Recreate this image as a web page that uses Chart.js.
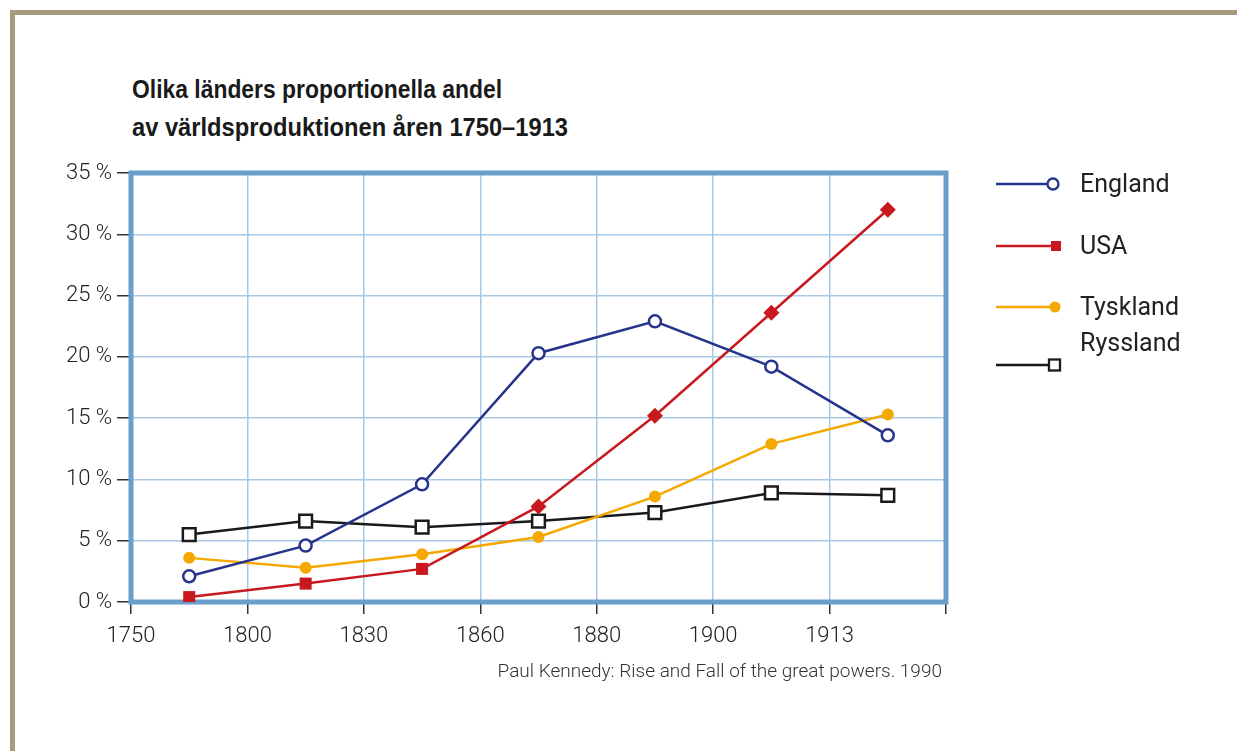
<!DOCTYPE html>
<html>
<head>
<meta charset="utf-8">
<script src="https://cdn.jsdelivr.net/npm/chart.js@4"></script>
<style>
  body { margin: 0; width: 1237px; height: 751px; overflow: hidden; position: relative; background: #fff; font-family: Roboto, sans-serif; }
  #border { position: absolute; left: 10px; top: 10px; width: 1300px; height: 800px; border-top: 5px solid #a69a80; border-left: 5px solid #a69a80; }
  #title { position: absolute; left: 132px; top: 70px; font-family: "Liberation Sans", sans-serif; font-weight: bold; font-size: 25px; line-height: 38px; color: #1a1a1a; }
  #title div { transform-origin: 0 50%; white-space: nowrap; width: max-content; }
  canvas { position: absolute; left: 0; top: 0; }
  #legend { position: absolute; left: 0; top: 0; }
  .item { position: absolute; left: 994px; }
  .item span { position: absolute; left: 86px; font-weight: 400; font-size: 25px; color: #222; white-space: nowrap; line-height: 28px; }
  #source { position: absolute; right: 295px; top: 659px; font-weight: 300; font-size: 19px; color: #333; white-space: nowrap; }
</style>
</head>
<body>
<div id="border"></div>
<div id="title"><div id="t1">Olika länders proportionella andel</div><div id="t2">av världsproduktionen åren 1750–1913</div></div>
<canvas id="chart" width="1237" height="751"></canvas>
<div id="legend"></div>
<div id="source">Paul Kennedy: Rise and Fall of the great powers. 1990</div>
<script>
// år (etiketter vid stödlinjerna, punkterna ligger mellan dem)
const xLabels = ['1750', '1800', '1830', '1860', '1880', '1900', '1913'];
const countries = ['England', 'USA', 'Tyskland', 'Ryssland'];

// andel av världsproduktionen, procent
const england  = [2.1, 4.6, 9.6, 20.3, 22.9, 19.2, 13.6];
const usa      = [0.4, 1.5, 2.7, 7.8, 15.2, 23.6, 32.0];
const tyskland = [3.6, 2.8, 3.9, 5.3, 8.6, 12.9, 15.3];
const ryssland = [5.5, 6.6, 6.1, 6.6, 7.3, 8.9, 8.7];

const yMax = 35;
const yStep = 5;

const navy = '#27348b';
const red = '#c8191e';
const orange = '#f5a800';
const black = '#1a1a1a';
const gridBlue = '#a9c8e6';
const frameBlue = '#6a9fcc';

const toPoints = arr => arr.map((v, i) => ({ x: i + 0.5, y: v }));

// condensed look for the title: squeeze each line to the reference width
const titleWidths = { t1: 370, t2: 436 };
Object.keys(titleWidths).forEach(id => {
  const el = document.getElementById(id);
  el.style.transform = `scaleX(${titleWidths[id] / el.getBoundingClientRect().width})`;
});

const framePlugin = {
  id: 'frame',
  beforeDatasetsDraw(chart) {
    const { ctx, chartArea: a } = chart;
    ctx.save();
    ctx.strokeStyle = frameBlue;
    ctx.lineWidth = 5;
    ctx.strokeRect(a.left, a.top, a.right - a.left, a.bottom - a.top);
    ctx.restore();
  }
};

const tickFont = { family: 'Roboto', size: 22, weight: '300' };

function makeChart() {
  const datasets = [
    {
      label: countries[0], data: toPoints(england),
      borderColor: navy, borderWidth: 2.5,
      pointStyle: 'circle', pointRadius: 6, pointBorderWidth: 2.5,
      pointBackgroundColor: '#fff', pointBorderColor: navy
    },
    {
      label: countries[1], data: toPoints(usa),
      borderColor: red, borderWidth: 2.5,
      pointStyle: c => c.dataIndex < 3 ? 'rect' : 'rectRot',
      pointRadius: c => c.dataIndex < 3 ? 8.5 : 8,
      pointBorderWidth: 0,
      pointBackgroundColor: red, pointBorderColor: red
    },
    {
      label: countries[2], data: toPoints(tyskland),
      borderColor: orange, borderWidth: 2.5,
      pointStyle: 'circle', pointRadius: 6, pointBorderWidth: 0,
      pointBackgroundColor: orange, pointBorderColor: orange
    },
    {
      label: countries[3], data: toPoints(ryssland),
      borderColor: black, borderWidth: 2.5,
      pointStyle: 'rect', pointRadius: 9, pointBorderWidth: 2.5,
      pointBackgroundColor: '#fff', pointBorderColor: black
    }
  ];

  new Chart(document.getElementById('chart'), {
    type: 'line',
    data: { datasets },
    options: {
      responsive: false,
      animation: false,
      events: [],
      layout: { padding: { left: 0, top: 173, right: 291, bottom: 89 } },
      plugins: { legend: { display: false }, tooltip: { enabled: false } },
      elements: { line: { tension: 0 } },
      scales: {
        x: {
          type: 'linear', min: 0, max: xLabels.length,
          afterFit: s => { s.height = 60; },
          ticks: {
            stepSize: 1, autoSkip: false, maxRotation: 0,
            callback: v => xLabels[v] ?? '',
            font: tickFont, color: '#222', padding: 9
          },
          grid: { color: gridBlue, lineWidth: 1.5, tickLength: 12, tickColor: '#333', tickWidth: 1.5 },
          border: { display: false }
        },
        y: {
          min: 0, max: yMax,
          afterFit: s => { s.width = 131; },
          ticks: {
            stepSize: yStep,
            callback: v => v + ' %',
            font: tickFont, color: '#222', padding: 5
          },
          grid: { color: gridBlue, lineWidth: 1.5, tickLength: 14, tickColor: '#333', tickWidth: 1.5 },
          border: { display: false }
        }
      }
    },
    plugins: [framePlugin]
  });

  // legend: line with the marker at its right end
  const legendRows = [184, 246, 307, 365];
  const textShift = [0, 0, 0, -22];
  const legend = document.getElementById('legend');
  datasets.forEach((d, i) => {
    const row = document.createElement('div');
    row.className = 'item';
    row.style.top = (legendRows[i] - 14) + 'px';
    let marker;
    if (i === 0) marker = `<circle cx="59" cy="14" r="5.5" fill="#fff" stroke="${navy}" stroke-width="2.3"/>`;
    else if (i === 1) marker = `<rect x="57" y="9" width="10" height="10" fill="${red}"/>`;
    else if (i === 2) marker = `<circle cx="61" cy="14" r="5.5" fill="${orange}"/>`;
    else marker = `<rect x="55" y="8.5" width="11" height="11" fill="#fff" stroke="${black}" stroke-width="2.3"/>`;
    row.innerHTML =
      `<svg width="70" height="28" style="position:absolute;left:0;top:0">` +
      `<line x1="2" y1="14" x2="58" y2="14" stroke="${d.borderColor}" stroke-width="2.3"/>${marker}</svg>` +
      `<span style="top:${textShift[i]}px">${d.label}</span>`;
    legend.appendChild(row);
  });
}

document.fonts.load('300 20px Roboto').then(makeChart, makeChart);
</script>
</body>
</html>
